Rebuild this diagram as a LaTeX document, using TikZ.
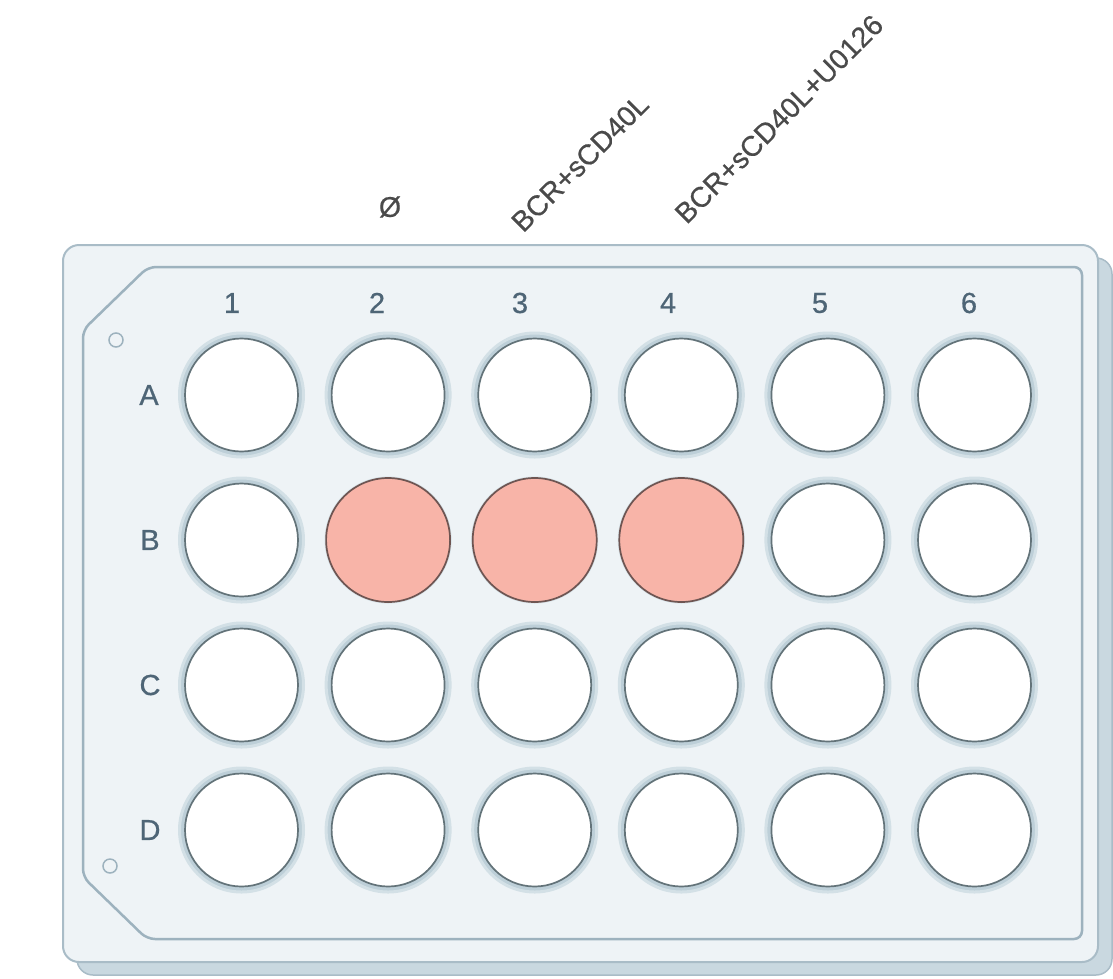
\documentclass[tikz,border=0pt]{standalone}
\usepackage{fontspec}
\setmainfont{Liberation Sans}
\newfontfamily\labelfont[FakeBold=0.7]{Liberation Sans}
\newfontfamily\topfont[FakeBold=0.5]{Liberation Sans}
\definecolor{platefill}{HTML}{EEF3F6}
\definecolor{plateedge}{HTML}{A9BCC7}
\definecolor{sidefill}{HTML}{C9D8E0}
\definecolor{innerline}{HTML}{9DB2BE}
\definecolor{ringcol}{HTML}{BDCFD8}
\definecolor{ringsoft}{HTML}{D3E0E6}
\definecolor{wellline}{HTML}{637379}
\definecolor{pinkfill}{HTML}{F8B4A8}
\definecolor{pinkline}{HTML}{6E5552}
\definecolor{labelcol}{HTML}{4E6576}
\definecolor{toptext}{HTML}{4A4A4A}
\begin{document}
\begin{tikzpicture}[x=1pt,y=-1pt,
  sideface/.style={fill=sidefill,draw=plateedge,line width=1.5pt,rounded corners=16pt},
  frontface/.style={fill=platefill,draw=plateedge,line width=2pt,rounded corners=16pt},
  innerborder/.style={draw=innerline,line width=2.5pt,rounded corners=8pt},
  marker/.style={circle,draw=innerline,line width=1.5pt,minimum size=14pt,inner sep=0pt},
  wellring/.style={circle,fill=ringcol,draw=ringsoft,line width=3pt,minimum size=124pt,inner sep=0pt},
  whitewell/.style={circle,fill=white,draw=wellline,line width=1.7pt,minimum size=113pt,inner sep=0pt},
  pinkwell/.style={circle,fill=pinkfill,draw=pinkline,line width=1.7pt,minimum size=124pt,inner sep=0pt},
  collabel/.style={text=labelcol,font=\labelfont\fontsize{29}{34}\selectfont,inner sep=0pt},
  rowlabel/.style={text=labelcol,font=\labelfont\fontsize{29}{34}\selectfont,inner sep=0pt},
  toplabel/.style={text=toptext,font=\topfont\fontsize{28.5}{33}\selectfont,inner sep=0pt}
]
\useasboundingbox (0,0) rectangle (1113,978);
\fill[white] (0,0) rectangle (1113,978);

% plate body
\draw[sideface] (77,258) rectangle (1112,975);
\draw[frontface] (63,245) rectangle (1098,962);
\draw[innerborder] (148,267) -- (1082,267) -- (1082,939) -- (147,939) -- (83,877) -- (83,330) -- cycle;

% orientation markers
\node[marker] (mtop) at (116,340) {};
\node[marker] (mbot) at (110,866) {};

% column labels
\node[collabel] (c1) at (232,303) {1};
\node[collabel] (c2) at (377,303) {2};
\node[collabel] (c3) at (520,303) {3};
\node[collabel] (c4) at (668,303) {4};
\node[collabel] (c5) at (820,303) {5};
\node[collabel] (c6) at (969,303) {6};

% row labels
\node[rowlabel] (rA) at (149,395) {A};
\node[rowlabel] (rB) at (150,540) {B};
\node[rowlabel] (rC) at (150,685) {C};
\node[rowlabel] (rD) at (150,830) {D};

% wells
\foreach \r/\y in {A/395,B/540,C/685,D/830}{
  \foreach \c in {1,...,6}{
    \pgfmathsetmacro{\xx}{241.5+146.6*(\c-1)}
    \node[wellring] (ring-\r\c) at (\xx,\y) {};
    \node[whitewell] (well-\r\c) at (\xx,\y) {};
  }
}
\foreach \c in {2,3,4}{
  \pgfmathsetmacro{\xx}{241.5+146.6*(\c-1)}
  \node[pinkwell] (pink-B\c) at (\xx,540) {};
}

% condition labels
\node[toplabel] (t2) at (390,207) {Ø};
\node[toplabel,rotate=45] (t3) at (580,163) {BCR+sCD40L};
\node[toplabel,rotate=45] (t4) at (779,119) {BCR+sCD40L+U0126};
\end{tikzpicture}
\end{document}
